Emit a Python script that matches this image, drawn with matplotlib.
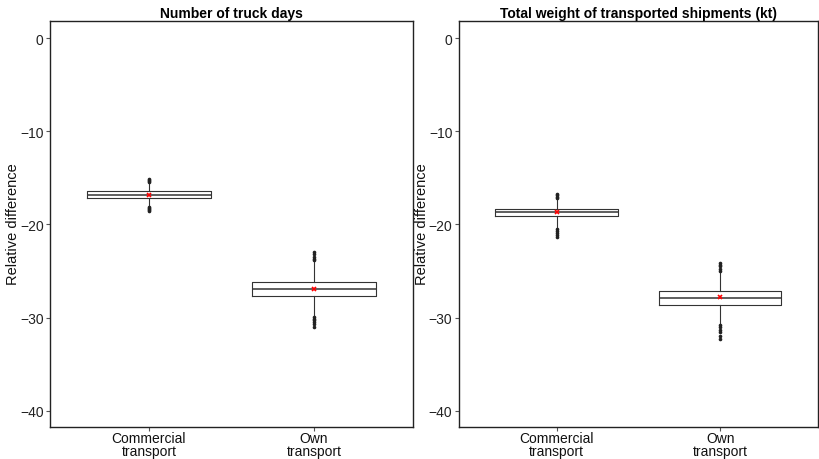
import matplotlib
matplotlib.use("Agg")
import matplotlib.pyplot as plt

plt.rcParams['font.family'] = ['Liberation Sans', 'DejaVu Sans']

categories = ["Commercial\ntransport", "Own\ntransport"]
titles = ["Number of truck days", "Total weight of transported shipments (kt)"]

# stats per panel: [commercial, own]
q1 = [[-17.12, -27.68], [-19.12, -28.68]]
med = [[-16.80, -26.88], [-18.69, -27.93]]
q3 = [[-16.44, -26.17], [-18.30, -27.18]]
whislo = [[-18.05, -29.9], [-20.45, -30.7]]
whishi = [[-15.47, -23.9], [-16.85, -25.1]]
means = [[-16.80, -26.88], [-18.69, -27.75]]
fliers = [
    [[-15.1, -15.2, -15.3, -15.4, -18.1, -18.2, -18.3, -18.45, -18.6],
     [-23.0, -23.2, -23.5, -23.7, -23.85, -29.95, -30.1, -30.3, -30.5, -30.7, -31.0]],
    [[-16.7, -16.8, -17.0, -17.15, -20.5, -20.7, -20.9, -21.1, -21.3],
     [-24.1, -24.3, -24.5, -24.8, -25.0, -30.8, -31.0, -31.3, -31.6, -32.0, -32.3]],
]

W, H = 819, 460
fig = plt.figure(figsize=(W / 100, H / 100), dpi=100)
axes_px = [(50, 21.7, 363), (458.7, 21.7, 359.5)]
ybot_px = 427.5

for p, (x0, ytop, wpx) in enumerate(axes_px):
    ax = fig.add_axes([x0 / W, (H - ybot_px) / H, wpx / W, (ybot_px - ytop) / H])
    stats = []
    for i in range(2):
        stats.append(dict(med=med[p][i], q1=q1[p][i], q3=q3[p][i],
                          whislo=whislo[p][i], whishi=whishi[p][i],
                          mean=means[p][i], fliers=fliers[p][i], label=categories[i]))
    ax.bxp(stats, positions=[1, 2], widths=0.75, showmeans=True, showcaps=False,
           boxprops=dict(color='#333333', linewidth=0.8),
           medianprops=dict(color='#333333', linewidth=1.1),
           whiskerprops=dict(color='#333333', linewidth=0.8),
           flierprops=dict(marker='o', markersize=1.6, markerfacecolor='#222222',
                           markeredgecolor='#222222', linestyle='none'),
           meanprops=dict(marker='x', markersize=3.5, markeredgecolor='red',
                          markeredgewidth=1.2, linestyle='none'))
    ax.set_xlim(0.4, 2.6)
    ax.set_ylim(-41.7, 1.89)
    ax.set_yticks([0, -10, -20, -30, -40])
    ax.set_yticklabels(["0", "\u221210", "\u221220", "\u221230", "\u221240"])
    ax.set_xticks([1, 2])
    ax.set_xticklabels(categories, fontsize=10, color='#111111', linespacing=0.9)
    ax.tick_params(axis='y', labelsize=10, labelcolor='#222222', length=3,
                   color='#555555', pad=1.5)
    ax.tick_params(axis='x', length=3, color='#555555', pad=0.5)
    for s in ax.spines.values():
        s.set_color('#222222')
        s.set_linewidth(1.0)
    ax.set_title(titles[p], fontsize=10, fontweight='bold', pad=3)
    ax.set_ylabel("Relative difference", fontsize=10.5, color='#111111')
    ax.yaxis.set_label_coords(-30 / wpx, 0.5)

fig.savefig("out.png", dpi=100)
